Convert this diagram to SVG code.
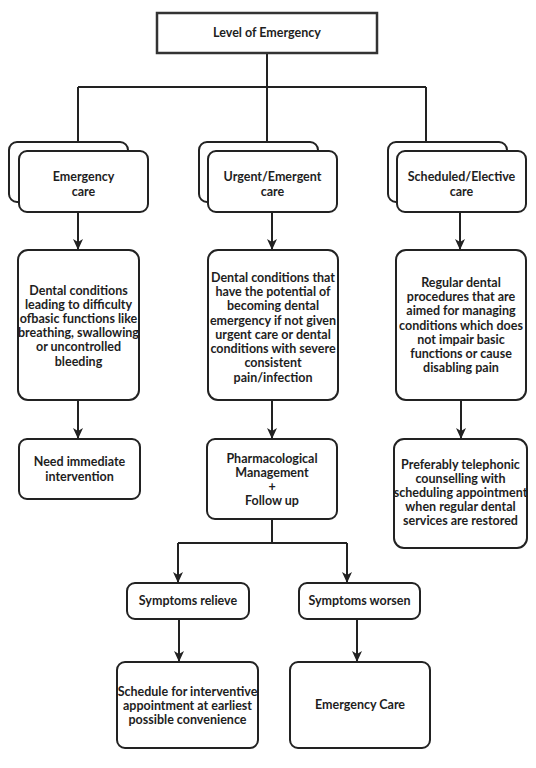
<svg xmlns="http://www.w3.org/2000/svg" width="536" height="768" viewBox="0 0 536 768">
<defs>
<style>
.box{fill:#fff;stroke:#222;stroke-width:2}
.top{fill:#fff;stroke:#333;stroke-width:2.5}
.ln{fill:none;stroke:#222;stroke-width:2}
text{font-family:Lato,"Open Sans","Liberation Sans",sans-serif;font-weight:bold;font-size:12.5px;fill:#1e1e1e;text-anchor:middle}
</style>
<marker id="ah" markerUnits="userSpaceOnUse" markerWidth="12" markerHeight="10" refX="11" refY="5" orient="auto" viewBox="0 0 12 10">
<path d="M0,0 L11,5 L0,10 L3,5 z" fill="#222"/>
</marker>
</defs>
<rect width="536" height="768" fill="#fff"/>
<g id="connectors">
<path class="ln" d="M267,53 V87 M78,87 H426 M78,87 V142 M267,87 V142 M426,87 V142"/>
<path class="ln" d="M78,212 V250" marker-end="url(#ah)"/>
<path class="ln" d="M272,212 V250" marker-end="url(#ah)"/>
<path class="ln" d="M460,212 V250" marker-end="url(#ah)"/>
<path class="ln" d="M78,400 V439" marker-end="url(#ah)"/>
<path class="ln" d="M272,400 V439" marker-end="url(#ah)"/>
<path class="ln" d="M461,400 V439" marker-end="url(#ah)"/>
<path class="ln" d="M272,519 V543 M178,543 H347"/>
<path class="ln" d="M178,543 V583" marker-end="url(#ah)"/>
<path class="ln" d="M347,543 V583" marker-end="url(#ah)"/>
<path class="ln" d="M179,619 V662" marker-end="url(#ah)"/>
<path class="ln" d="M357,619 V662" marker-end="url(#ah)"/>
</g>
<g id="level">
<rect class="top" x="157" y="13" width="220" height="40"/>
<text x="267" y="37">Level of Emergency</text>
</g>
<g id="emergency-care">
<rect class="box" x="9" y="142" width="119" height="60" rx="8"/>
<rect class="box" x="19" y="151" width="129" height="61" rx="8"/>
<text x="83.5" y="181">Emergency</text>
<text x="83.5" y="196">care</text>
</g>
<g id="urgent-care">
<rect class="box" x="199" y="142" width="119" height="60" rx="8"/>
<rect class="box" x="208" y="151" width="129" height="61" rx="8"/>
<text x="272.5" y="181">Urgent/Emergent</text>
<text x="272.5" y="196">care</text>
</g>
<g id="scheduled-care">
<rect class="box" x="388" y="142" width="119" height="60" rx="8"/>
<rect class="box" x="397" y="151" width="129" height="61" rx="8"/>
<text x="461.5" y="181">Scheduled/Elective</text>
<text x="461.5" y="196">care</text>
</g>
<g id="emergency-desc">
<rect class="box" x="18" y="250" width="121" height="150" rx="10"/>
<text x="78.5" y="295">Dental conditions</text>
<text x="78.5" y="309">leading to difficulty</text>
<text x="78.5" y="323">ofbasic functions like</text>
<text x="78.5" y="337">breathing, swallowing</text>
<text x="78.5" y="351">or uncontrolled</text>
<text x="78.5" y="366">bleeding</text>
</g>
<g id="urgent-desc">
<rect class="box" x="208" y="250" width="130" height="150" rx="10"/>
<text x="273" y="282">Dental conditions that</text>
<text x="273" y="296">have the potential of</text>
<text x="273" y="310">becoming dental</text>
<text x="273" y="325">emergency if not given</text>
<text x="273" y="339">urgent care or dental</text>
<text x="273" y="353">conditions with severe</text>
<text x="273" y="367">consistent</text>
<text x="273" y="382">pain/infection</text>
</g>
<g id="scheduled-desc">
<rect class="box" x="396" y="250" width="130" height="150" rx="10"/>
<text x="461" y="287">Regular dental</text>
<text x="461" y="301">procedures that are</text>
<text x="461" y="315">aimed for managing</text>
<text x="461" y="330">conditions which does</text>
<text x="461" y="344">not impair basic</text>
<text x="461" y="358">functions or cause</text>
<text x="461" y="372">disabling pain</text>
</g>
<g id="immediate">
<rect class="box" x="19" y="439" width="121" height="60" rx="8"/>
<text x="79.5" y="466">Need immediate</text>
<text x="79.5" y="481">intervention</text>
</g>
<g id="pharma">
<rect class="box" x="207" y="439" width="130" height="80" rx="8"/>
<text x="272" y="463">Pharmacological</text>
<text x="272" y="477">Management</text>
<text x="272" y="491">+</text>
<text x="272" y="505">Follow up</text>
</g>
<g id="telephonic">
<rect class="box" x="394" y="439" width="133" height="109" rx="10"/>
<text x="460.5" y="469">Preferably telephonic</text>
<text x="460.5" y="483">counselling with</text>
<text x="460.5" y="497">scheduling appointment</text>
<text x="460.5" y="511">when regular dental</text>
<text x="460.5" y="525">services are restored</text>
</g>
<g id="relieve">
<rect class="box" x="127" y="583" width="122" height="36" rx="8"/>
<text x="188" y="605">Symptoms relieve</text>
</g>
<g id="worsen">
<rect class="box" x="299" y="583" width="121" height="36" rx="8"/>
<text x="359.5" y="605">Symptoms worsen</text>
</g>
<g id="schedule-interventive">
<rect class="box" x="117" y="662" width="141" height="86" rx="8"/>
<text x="187.5" y="696">Schedule for interventive</text>
<text x="187.5" y="710">appointment at earliest</text>
<text x="187.5" y="724">possible convenience</text>
</g>
<g id="emergency-final">
<rect class="box" x="290" y="662" width="140" height="86" rx="8"/>
<text x="360" y="709">Emergency Care</text>
</g>
</svg>
